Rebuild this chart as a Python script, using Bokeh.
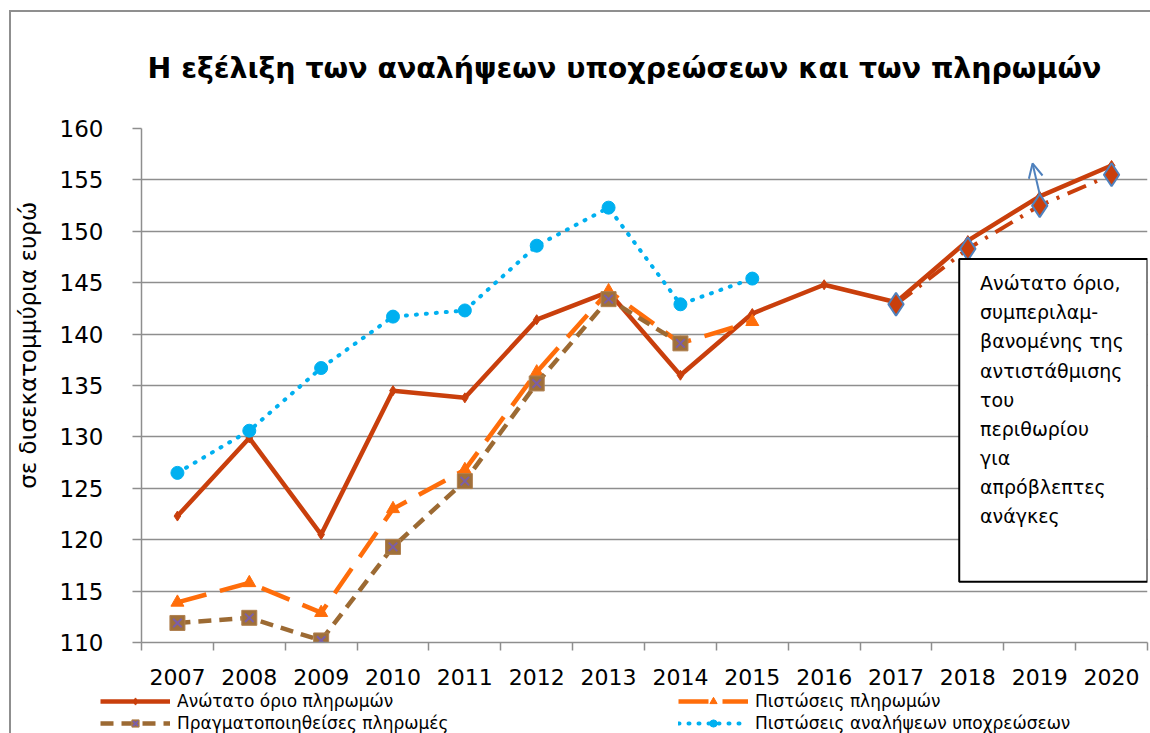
from bokeh.plotting import figure
from bokeh.layouts import column
from bokeh.models import (FixedTicker, Legend, LegendItem, BoxAnnotation, Label,
                          Arrow, OpenHead, Range1d)
from bokeh.embed import file_html
from bokeh.resources import INLINE

# ---------------- data ----------------
years = [2007, 2008, 2009, 2010, 2011, 2012, 2013, 2014, 2015, 2016, 2017, 2018, 2019, 2020]
anotato_orio = [122.3, 129.9, 120.5, 134.5, 133.8, 141.4, 144.1, 136.0, 142.0, 144.8, 143.1, 149.1, 153.4, 156.4]

years_hist = [2007, 2008, 2009, 2010, 2011, 2012, 2013, 2014, 2015]
pistoseis_pliromon = [113.9, 115.8, 112.9, 123.0, 126.8, 136.3, 144.2, 139.1, 141.2]

years_real = [2007, 2008, 2009, 2010, 2011, 2012, 2013, 2014]
pragmatopoiitheises = [111.9, 112.4, 110.2, 119.3, 125.7, 135.2, 143.4, 139.1]

pistoseis_analipseon = [126.5, 130.6, 136.7, 141.7, 142.3, 148.6, 152.3, 142.9, 145.4]

years_proj = [2017, 2018, 2019, 2020]
anotato_antistathmisi = [142.9, 148.3, 152.5, 155.5]

y_ticks = [110, 115, 120, 125, 130, 135, 140, 145, 150, 155, 160]

title_text = "Η εξέλιξη των αναλήψεων υποχρεώσεων και των πληρωμών"
y_label = "σε δισεκατομμύρια ευρώ"
names = ["Ανώτατο όριο πληρωμών", "Πιστώσεις πληρωμών",
         "Πραγματοποιηθείσες πληρωμές", "Πιστώσεις αναλήψεων υποχρεώσεων"]
box_lines = ["Ανώτατο όριο,", "συμπεριλαμ-", "βανομένης της", "αντιστάθμισης",
             "του", "περιθωρίου", "για", "απρόβλεπτες", "ανάγκες"]

# annotation placement (data units)
box_left, box_right, box_top, box_bottom = 2017.88, 2020.5, 147.3, 115.9
box_text_x, box_text_y = 2018.17, 146.0
arrow_x0, arrow_y0, arrow_x1, arrow_y1 = 2019.0, 153.6, 2018.9, 156.6

FONT = "DejaVu Sans"
RED = "#C93F0C"
ORANGE = "#FF6D0A"
BROWN = "#9C6A33"
BLUE = "#00B0F0"
GRID = "#8E8E8E"
FRAME_LINE = "#8F8F8F"

p = figure(width=1150, height=691, output_backend="svg", toolbar_location=None,
           x_range=Range1d(2006.5, 2020.5), y_range=Range1d(110, 160),
           min_border_left=141, min_border_right=3, min_border_top=128, min_border_bottom=49,
           background_fill_color="white", border_fill_color=None)
p.outline_line_color = None
# thin grey chart-area border (left and top), drawn behind the transparent canvas border
p.styles = {"background": (f"linear-gradient({FRAME_LINE}, {FRAME_LINE}) 9px 10px / 2px 100% no-repeat, "
                           f"linear-gradient({FRAME_LINE}, {FRAME_LINE}) 9px 10px / 100% 2px no-repeat, white")}

p.title.text = title_text
p.title.text_font = FONT
p.title.text_font_size = "28.4px"
p.title.text_font_style = "bold"
p.title.text_color = "black"
p.title.align = "left"
p.title.vertical_align = "middle"
p.title.offset = 6
p.title.standoff = 85

# axes
xa = p.xaxis[0]
xa.ticker = FixedTicker(ticks=years, minor_ticks=[y - 0.5 for y in years] + [years[-1] + 0.5])
xa.major_tick_out = 0
xa.major_tick_in = 0
xa.minor_tick_out = 8
xa.minor_tick_in = 0
xa.minor_tick_line_color = GRID
xa.minor_tick_line_width = 1.5
xa.axis_line_color = GRID
xa.axis_line_width = 1.5
xa.major_label_text_font = FONT
xa.major_label_text_font_size = "22px"
xa.major_label_text_color = "black"
xa.major_label_standoff = 18

ya = p.yaxis[0]
ya.ticker = FixedTicker(ticks=y_ticks, minor_ticks=[])
ya.major_tick_out = 9
ya.major_tick_in = 0
ya.major_tick_line_color = GRID
ya.major_tick_line_width = 1.5
ya.axis_line_color = GRID
ya.axis_line_width = 1.5
ya.major_label_text_font = FONT
ya.major_label_text_font_size = "23px"
ya.major_label_text_color = "black"
ya.major_label_standoff = 29
ya.axis_label = "\u00a0" * 11 + y_label
ya.axis_label_text_font = FONT
ya.axis_label_text_font_size = "23px"
ya.axis_label_text_font_style = "normal"
ya.axis_label_text_color = "black"
ya.axis_label_standoff = 16

p.xgrid.grid_line_color = None
p.ygrid.grid_line_color = GRID
p.ygrid.grid_line_width = 1.5

# series styles
s1_line = dict(line_color=RED, line_width=4.5)
s1_mark = dict(marker="diamond", size=10, fill_color=RED, line_color=RED)
s2_line = dict(line_color=ORANGE, line_width=4.5, line_dash="30 14")
s2_mark = dict(marker="triangle", size=13, fill_color=ORANGE, line_color=ORANGE)
s3_line = dict(line_color=BROWN, line_width=4.5, line_dash="13 8")
s3_mark = dict(marker="square", size=15, fill_color="#A0703A", line_color="#B08050")
s3_x = dict(marker="x", size=12, line_color="#7B5EA8", line_width=2)
s4_line = dict(line_color=BLUE, line_width=4, line_dash="1 9", line_cap="round")
s4_mark = dict(marker="circle", size=13, fill_color=BLUE, line_color=BLUE)

# series
p.line(years, anotato_orio, **s1_line)
p.scatter(years, anotato_orio, **s1_mark)
p.line(years_hist, pistoseis_pliromon, **s2_line)
p.scatter(years_hist, pistoseis_pliromon, **s2_mark)
p.line(years_real, pragmatopoiitheises, **s3_line)
p.scatter(years_real, pragmatopoiitheises, **s3_mark)
p.scatter(years_real, pragmatopoiitheises, **s3_x)
p.line(years_hist, pistoseis_analipseon, **s4_line)
p.scatter(years_hist, pistoseis_analipseon, **s4_mark)
p.line(years_proj, anotato_antistathmisi, line_color=RED, line_width=4, line_dash="20 9 3 9")
p.scatter(years_proj, anotato_antistathmisi, marker="diamond", size=23, fill_color=RED,
          line_color="#4F81BD", line_width=2)

# annotation text box
box = BoxAnnotation(left=box_left, right=box_right, top=box_top, bottom=box_bottom,
                    fill_color="white", fill_alpha=1, line_color="black", line_alpha=1,
                    line_width=2)
p.add_layout(box)
lbl = Label(x=box_text_x, y=box_text_y, text="\n".join(box_lines), text_font=FONT,
            text_font_size="19px", text_color="black", text_align="left",
            text_baseline="top", text_line_height=1.32)
p.add_layout(lbl)

arr = Arrow(end=OpenHead(size=14, line_color="#4F81BD", line_width=2),
            x_start=arrow_x0, y_start=arrow_y0, x_end=arrow_x1, y_end=arrow_y1,
            line_color="#4F81BD", line_width=2)
p.add_layout(arr)

# ---------------- legend strip (two columns) ----------------
# The strip's ranges lie outside the data, so its renderers only provide legend keys.
pl = figure(width=1150, height=42, output_backend="svg", toolbar_location=None,
            x_range=Range1d(0, 1), y_range=Range1d(0, 1), x_axis_type=None, y_axis_type=None,
            min_border=0, background_fill_color=None, border_fill_color=None)
pl.outline_line_color = None
pl.xgrid.visible = False
pl.ygrid.visible = False
pl.styles = {"background": f"linear-gradient({FRAME_LINE}, {FRAME_LINE}) 9px 0px / 2px 100% no-repeat, white"}
for f in (p, pl):
    if "frame_align" in f.properties():
        f.frame_align = False

k1l = pl.line(years, anotato_orio, **s1_line)
k1m = pl.scatter(years, anotato_orio, **s1_mark)
k2l = pl.line(years_hist, pistoseis_pliromon, **s2_line)
k2m = pl.scatter(years_hist, pistoseis_pliromon, **s2_mark)
k3l = pl.line(years_real, pragmatopoiitheises, **s3_line)
k3m = pl.scatter(years_real, pragmatopoiitheises, **s3_mark)
k3x = pl.scatter(years_real, pragmatopoiitheises, **s3_x)
k4l = pl.line(years_hist, pistoseis_analipseon, **s4_line)
k4m = pl.scatter(years_hist, pistoseis_analipseon, **s4_mark)

leg1 = Legend(items=[LegendItem(label=names[0], renderers=[k1l, k1m]),
                     LegendItem(label=names[2], renderers=[k3l, k3m, k3x])],
              location=(100, 0))
leg2 = Legend(items=[LegendItem(label=names[1], renderers=[k2l, k2m]),
                     LegendItem(label=names[3], renderers=[k4l, k4m])],
              location=(678, 0))
for lg in (leg1, leg2):
    lg.orientation = "vertical"
    lg.padding = 0
    lg.margin = 0
    lg.spacing = 2
    lg.glyph_width = 70
    lg.glyph_height = 18
    lg.label_height = 18
    lg.label_standoff = 7
    lg.label_text_font = FONT
    lg.label_text_font_size = "17px"
    lg.label_text_color = "black"
    lg.border_line_color = None
    lg.background_fill_alpha = 0
    pl.add_layout(lg, "center")

layout = column(p, pl, spacing=0)
open("out.html", "w").write(file_html(layout, INLINE))
